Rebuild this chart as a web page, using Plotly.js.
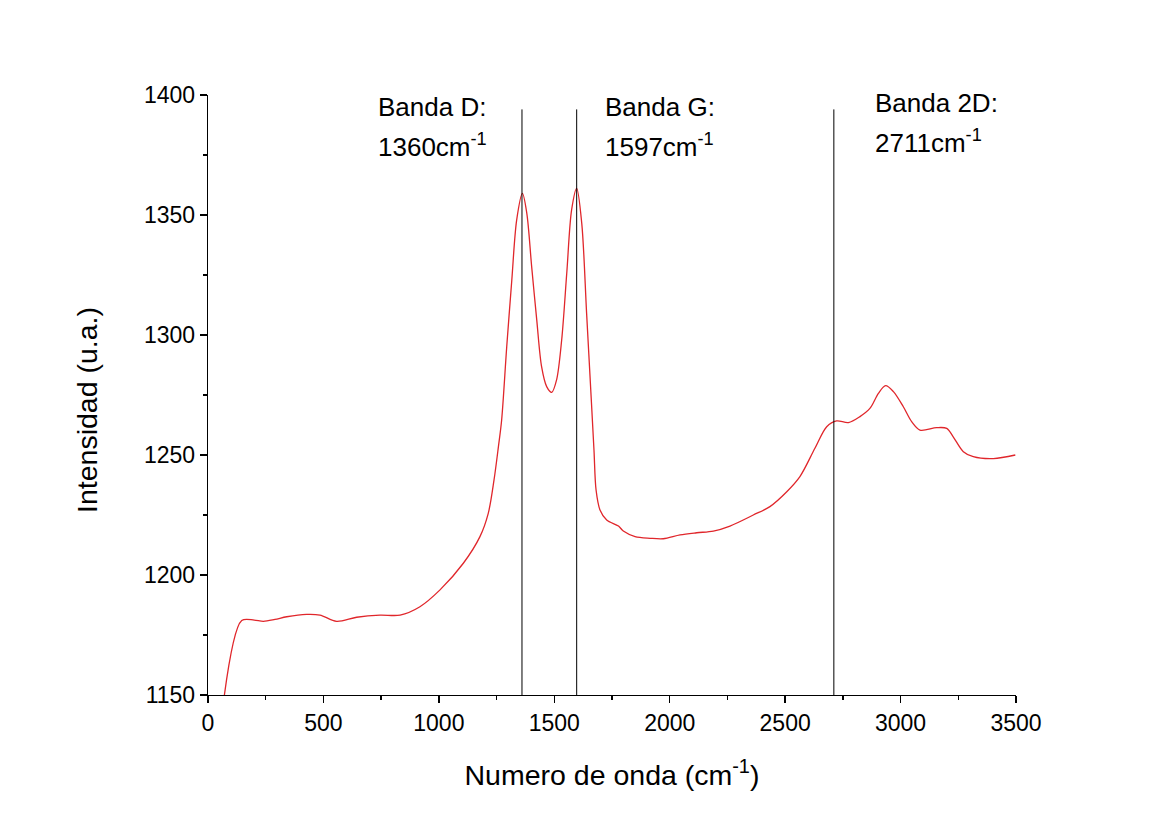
<!DOCTYPE html>
<html>
<head>
<meta charset="utf-8">
<script src="https://cdn.plot.ly/plotly-3.0.1.min.js"></script>
<style>
  html, body { margin: 0; padding: 0; background: #ffffff; }
  #chart { width: 1164px; height: 830px; }
</style>
</head>
<body>
<div id="chart"></div>
<script>
// Raman spectrum: wavenumber (cm-1) vs intensity (a.u.)
const wavenumber = [71, 146, 200, 240, 290, 341, 427, 485, 557, 644, 745, 832, 918, 1005, 1106, 1178, 1214, 1239, 1258, 1272, 1294, 1316, 1337, 1362, 1381, 1402, 1424, 1445, 1467, 1489, 1510, 1532, 1554, 1575, 1597, 1619, 1640, 1662, 1672, 1681, 1698, 1727, 1778, 1799, 1850, 1915, 1972, 2045, 2117, 2189, 2261, 2362, 2434, 2507, 2564, 2629, 2680, 2723, 2774, 2824, 2868, 2904, 2935, 2969, 3012, 3048, 3084, 3156, 3200, 3228, 3272, 3315, 3402, 3497];
const intensity = [1150, 1181, 1181.2, 1180.7, 1181.5, 1182.6, 1183.6, 1183.3, 1180.7, 1182.4, 1183.3, 1183.3, 1186.8, 1193.8, 1204.9, 1216, 1225.7, 1239.6, 1253.5, 1264.6, 1295.1, 1322.9, 1347.9, 1359, 1350.7, 1328.5, 1306.3, 1286.8, 1278.5, 1276.1, 1281.3, 1297.9, 1325.7, 1352.1, 1361.1, 1346.5, 1309, 1270, 1252, 1235.4, 1227.1, 1222.9, 1220.4, 1218.3, 1216, 1215.3, 1215.1, 1216.7, 1217.6, 1218.3, 1220.4, 1225, 1228.5, 1234.7, 1241, 1252.8, 1261.8, 1264.2, 1263.5, 1266, 1269.5, 1275.7, 1278.9, 1276.4, 1270.1, 1263.9, 1260.4, 1261.4, 1261.1, 1257.6, 1251.4, 1249.3, 1248.5, 1250];

// Band markers
const bandNames = ['Banda D:', 'Banda G:', 'Banda 2D:'];
const bandPositions = [1360, 1597, 2711];
const bandLineTop = 1394;
// where each label block starts (x) and the two label rows (y)
const bandLabelX = [728, 1711, 2880];
const bandNameY = [1395, 1395, 1396.5];
const bandValueY = [1379, 1379, 1380.5];

const xTicks = [0, 500, 1000, 1500, 2000, 2500, 3000, 3500];
const yTicks = [1150, 1200, 1250, 1300, 1350, 1400];

const FONT = 'Liberation Sans, Arial, sans-serif';

const spectrum = {
  x: wavenumber,
  y: intensity,
  type: 'scatter',
  mode: 'lines',
  line: { color: '#e0262b', width: 1.3, shape: 'spline', smoothing: 0.9 },
  hoverinfo: 'x+y',
  showlegend: false
};

const shapes = bandPositions.map(p => ({
  type: 'line', xref: 'x', yref: 'y',
  x0: p, x1: p, y0: 1150, y1: bandLineTop,
  line: { color: '#000000', width: 1 }
}));

const annotations = [];
bandNames.forEach((name, i) => {
  annotations.push({
    xref: 'x', yref: 'y', x: bandLabelX[i], y: bandNameY[i],
    xanchor: 'left', yanchor: 'middle', showarrow: false,
    text: name, font: { family: FONT, size: 26, color: '#000' }
  });
  annotations.push({
    xref: 'x', yref: 'y', x: bandLabelX[i], y: bandValueY[i],
    xanchor: 'left', yanchor: 'middle', showarrow: false,
    text: bandPositions[i] + 'cm<sup>-1</sup>',
    font: { family: FONT, size: 26, color: '#000' }
  });
});

// vertical axis title
annotations.push({
  xref: 'paper', yref: 'paper', x: -0.1498, y: 0.475,
  xanchor: 'center', yanchor: 'middle', showarrow: false, textangle: -90,
  text: 'Intensidad (u.a.)', font: { family: FONT, size: 28.5, color: '#000' }
});

const axisCommon = {
  showgrid: false, zeroline: false,
  showline: true, linecolor: '#000', linewidth: 1.3,
  ticks: 'outside', ticklen: 7, tickwidth: 1.3, tickcolor: '#000',
  tickfont: { family: FONT, size: 23, color: '#000' },
  mirror: false
};

const layout = {
  width: 1164, height: 830,
  margin: { l: 208, r: 148, t: 95, b: 135 },
  paper_bgcolor: '#ffffff', plot_bgcolor: '#ffffff',
  showlegend: false,
  xaxis: Object.assign({}, axisCommon, {
    range: [0, 3500], tickvals: xTicks, ticktext: xTicks.map(String),
    minor: { dtick: 250, tick0: 0, ticks: 'outside', ticklen: 4, tickwidth: 1.3, tickcolor: '#000' },
    title: { text: 'Numero de onda (cm<sup>-1</sup>)', font: { family: FONT, size: 28.5, color: '#000' }, standoff: 30 }
  }),
  yaxis: Object.assign({}, axisCommon, {
    range: [1150, 1400], tickvals: yTicks, ticktext: yTicks.map(String),
    minor: { dtick: 25, tick0: 1150, ticks: 'outside', ticklen: 4, tickwidth: 1.3, tickcolor: '#000' }
  }),
  shapes: shapes,
  annotations: annotations
};

Plotly.newPlot('chart', [spectrum], layout, { displayModeBar: false, staticPlot: true });
</script>
</body>
</html>
